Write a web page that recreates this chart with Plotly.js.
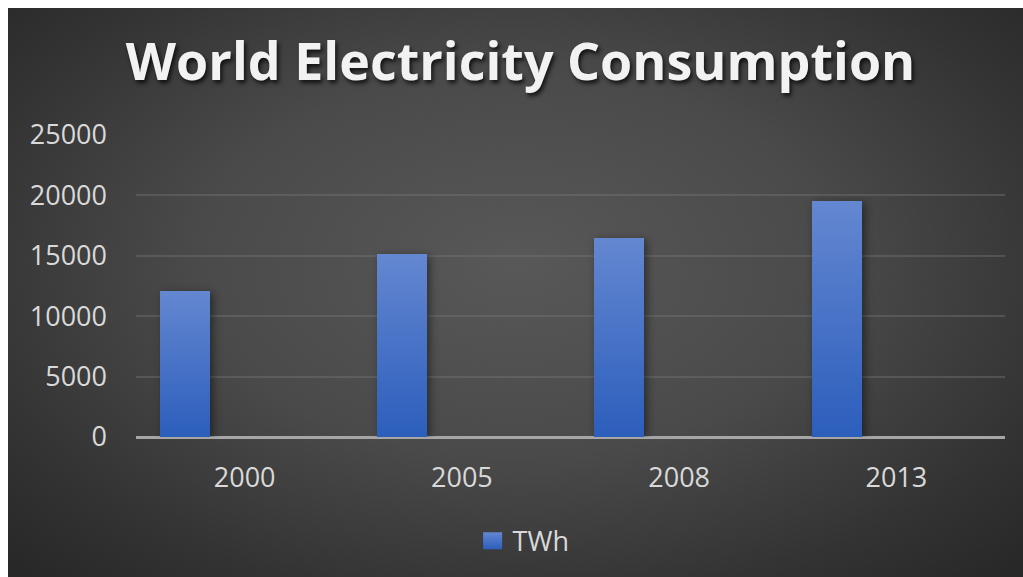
<!DOCTYPE html>
<html>
<head>
<meta charset="utf-8">
<script src="https://cdn.plot.ly/plotly-3.0.1.min.js"></script>
<style>
  html, body { margin: 0; padding: 0; background: #ffffff; width: 1023px; height: 577px; overflow: hidden; }
  #chart {
    position: absolute; left: 8px; top: 8px; width: 1015px; height: 569px;
    background: radial-gradient(ellipse 70% 75% at 50% 45%, #585858 0%, #4a4a4a 45%, #333333 80%, #282828 100%);
  }
</style>
</head>
<body>
<div id="chart"></div>
<script>
const years = ["2000", "2005", "2008", "2013"];
const twh = [12120, 15180, 16500, 19560];
const yTicks = [0, 5000, 10000, 15000, 20000, 25000];
const seriesName = "TWh";
const chartTitle = "World Electricity Consumption";

const trace = {
  type: "bar",
  x: years,
  y: twh,
  name: seriesName,
  width: 0.23,
  offset: -0.39,
  marker: { color: "#4673cb", line: { width: 0 } },
  showlegend: true,
  hoverinfo: "x+y"
};

const layout = {
  width: 1015,
  height: 569,
  paper_bgcolor: "rgba(0,0,0,0)",
  plot_bgcolor: "rgba(0,0,0,0)",
  margin: { l: 128, r: 18, t: 127, b: 140 },
  title: {
    text: chartTitle,
    font: { family: "Open Sans", size: 52, color: "#f2f2f2", weight: 700, shadow: "2px 3px 4px rgba(0,0,0,0.75)" },
    xref: "container", x: 0.505, xanchor: "center",
    yref: "container", y: 0.905, yanchor: "middle"
  },
  xaxis: {
    type: "category",
    showgrid: false,
    zeroline: false,
    showline: false,
    ticks: "",
    tickfont: { family: "Open Sans", size: 27, color: "#d9d9d9" },
    ticklabelstandoff: 22,
    fixedrange: true
  },
  yaxis: {
    range: [0, 25000],
    tickvals: yTicks,
    ticktext: yTicks.map(String),
    showgrid: true,
    gridcolor: "rgba(120,120,120,0.4)",
    gridwidth: 2,
    zeroline: true,
    zerolinecolor: "#a6a6a6",
    zerolinewidth: 3,
    showline: false,
    ticks: "",
    tickfont: { family: "Open Sans", size: 27, color: "#d9d9d9" },
    ticklabelstandoff: 28,
    fixedrange: true
  },
  showlegend: true,
  legend: {
    orientation: "h",
    xref: "container", x: 0.508, xanchor: "center",
    yref: "container", y: 0.063, yanchor: "middle",
    font: { family: "Open Sans", size: 27, color: "#d9d9d9" },
    bgcolor: "rgba(0,0,0,0)",
    itemwidth: 30
  },
  bargap: 0
};

Plotly.newPlot("chart", [trace], layout, { displayModeBar: false, staticPlot: true }).then(function (gd) {
  const svg = gd.querySelector("svg.main-svg");
  const ns = "http://www.w3.org/2000/svg";
  let defs = svg.querySelector("defs");
  if (!defs) { defs = document.createElementNS(ns, "defs"); svg.insertBefore(defs, svg.firstChild); }
  const grad = document.createElementNS(ns, "linearGradient");
  grad.setAttribute("id", "barGrad");
  grad.setAttribute("x1", "0"); grad.setAttribute("y1", "0");
  grad.setAttribute("x2", "0"); grad.setAttribute("y2", "1");
  [["0%", "#6487d1"], ["100%", "#2c5ebc"]].forEach(function (s) {
    const st = document.createElementNS(ns, "stop");
    st.setAttribute("offset", s[0]); st.setAttribute("stop-color", s[1]);
    grad.appendChild(st);
  });
  defs.appendChild(grad);
  gd.querySelectorAll(".bars .point path").forEach(function (p) {
    p.style.fill = "url(#barGrad)";
    p.style.filter = "drop-shadow(3px 2px 4px rgba(0,0,0,0.45))";
  });
  gd.querySelectorAll(".legendpoints path").forEach(function (p) {
    p.style.fill = "url(#barGrad)";
    p.setAttribute("d", "M9.5,8.5H-9.5V-8.5H9.5Z");
  });
});
</script>
</body>
</html>
